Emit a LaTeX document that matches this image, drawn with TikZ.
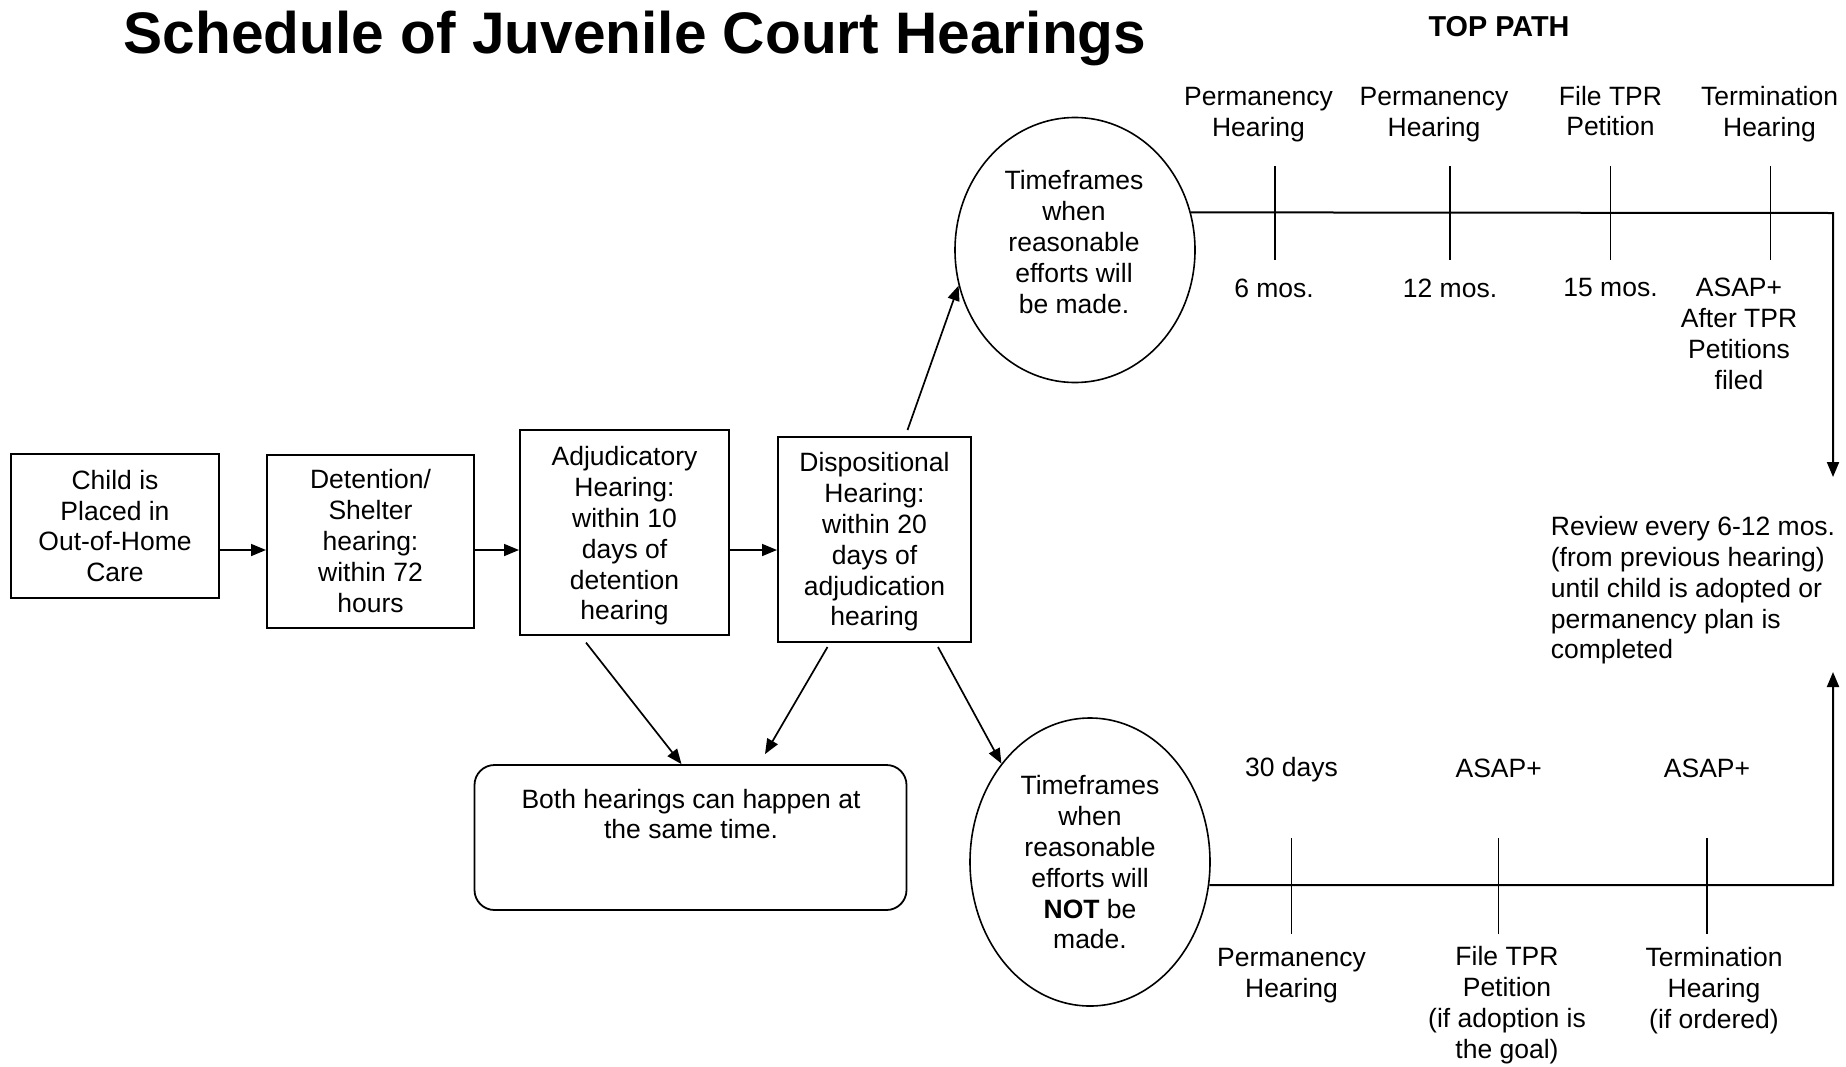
\documentclass[tikz,border=0pt]{standalone}
\usepackage{fontspec}
\setmainfont{Liberation Sans}
\usetikzlibrary{arrows.meta,calc,shapes.geometric}
\newcommand\bodyfont{\fontsize{13.25pt}{15.4pt}\selectfont}
\begin{document}
\begin{tikzpicture}[x=0.5pt,y=-0.5pt,
  box/.style={draw, line width=1pt, inner sep=0pt, align=center, font=\bodyfont},
  oval/.style={draw, ellipse, line width=0.8pt, inner sep=0pt, align=center, font=\bodyfont},
  lbl/.style={align=center, font=\bodyfont, inner sep=0pt},
  arr/.style={line width=0.85pt, -{Triangle[length=7.5pt,width=6pt]}},
  tl/.style={line width=1pt},
  tickline/.style={line width=0.6pt}]
\useasboundingbox (0,0) rectangle (1846,1066);

% title
\node[font=\fontsize{29.3pt}{34pt}\selectfont\bfseries, anchor=base, inner sep=0pt] (title) at (635,53.5) {Schedule of Juvenile Court Hearings};
\node[font=\fontsize{14.4pt}{17pt}\selectfont\bfseries, anchor=base, inner sep=0pt] (toppath) at (1499,36.5) {TOP PATH};

% boxes
\node[box, minimum width=104pt, minimum height=72pt] (b1) at (115,526) {Child is\\Placed in\\Out-of-Home\\Care};
\node[box, minimum width=103.5pt, minimum height=86.5pt] (b2) at (370.5,541) {Detention/\\Shelter\\hearing:\\within 72\\hours};
\node[box, minimum width=104.5pt, minimum height=102.5pt] (b3) at (624.5,532.5) {};
\node[lbl] (b3t) at (624.5,536) {Adjudicatory\\Hearing:\\within 10\\days of\\detention\\hearing};
\node[box, minimum width=96.5pt, minimum height=102.5pt] (b4) at (874.5,539.5) {};
\node[lbl] (b4t) at (874.5,542) {Dispositional\\Hearing:\\within 20\\days of\\adjudication\\hearing};

% ellipses
\node[oval, minimum width=120pt, minimum height=132.5pt] (e1) at (1075,250) {};
\node[lbl] (e1t) at (1074,242) {Timeframes\\when\\reasonable\\efforts will\\be made.};
\node[oval, minimum width=120pt, minimum height=144pt] (e2) at (1090,862) {};
\node[lbl] (e2t) at (1090,862.5) {Timeframes\\when\\reasonable\\efforts will\\\textbf{NOT} be\\made.};

% rounded box
\node[draw, rounded corners=10pt, line width=0.9pt, minimum width=216pt, minimum height=72.5pt, inner sep=0pt] (rr) at (690.5,837.5) {};
\node[lbl] (rrt) at (691,814) {Both hearings can happen at\\the same time.};

% arrows between boxes
\draw[arr] (b1.east |- 0,550) -- (b2.west |- 0,550);
\draw[arr] (b2.east |- 0,550) -- (b3.west |- 0,550);
\draw[arr] (b3.east |- 0,550) -- (b4.west |- 0,550);

\draw[arr] ($(b4.north)+(33,-6)$) -- (e1.197);
\draw[arr] ($(b4.south)+(63.5,4)$) -- (e2.132);
\draw[arr] ($(b3.south)+(-38.5,6.6)$) -- ($(rr.north)+(-9,0)$);
\draw[arr] ($(b4.south)+(-47,4)$) -- ($(rr.north)+(74.5,-10)$);

% top timeline
\coordinate (ctop) at (1833,213);
\coordinate (rtop) at (1833,477);
\draw[arr, line width=1pt] (e1.18) -- (ctop) -- (rtop);
\foreach \i/\x in {1/1275,2/1450,3/1610.5,4/1770.6}{
  \coordinate (ta\i) at (\x,166);
  \coordinate (tb\i) at (\x,260);
  \draw[tickline] (ta\i) -- (tb\i);
}
\node[lbl] (tp1) at (1258.5,114.5) {Permanency\\Hearing};
\node[lbl] (tp2) at (1434,114.5) {Permanency\\Hearing};
\node[lbl] (tp3) at (1610.5,111) {File TPR\\Petition};
\node[lbl] (tp4) at (1769.5,114.5) {Termination\\Hearing};
\node[lbl] (tm1) at (1274,288) {6 mos.};
\node[lbl] (tm2) at (1450,288) {12 mos.};
\node[lbl] (tm3) at (1610.5,288) {15 mos.};
\node[lbl] (tm4) at (1739,334) {ASAP+\\After TPR\\Petitions\\filed};

% review text
\node[lbl, align=left, anchor=west] (review) at (1550.5,590.5) {Review every 6-12 mos.\\(from previous hearing)\\until child is adopted or\\permanency plan is\\completed};

% bottom timeline
\coordinate (cbot) at (1833,885);
\coordinate (rbot) at (1833,672);
\draw[arr, line width=1pt] (e2.349) -- (cbot) -- (rbot);
\foreach \i/\x in {1/1291.5,2/1498.7,3/1707}{
  \coordinate (ba\i) at (\x,838);
  \coordinate (bb\i) at (\x,934);
  \draw[tickline] (ba\i) -- (bb\i);
}
\node[lbl] (bt1) at (1291.5,769.5) {30 days};
\node[lbl] (bt2) at (1498.7,768.5) {ASAP+};
\node[lbl] (bt3) at (1707,768.5) {ASAP+};
\node[lbl] (bl1) at (1291.5,975.5) {Permanency\\Hearing};
\node[lbl] (bl2) at (1507,1005) {File TPR\\Petition\\(if adoption is\\the goal)};
\node[lbl] (bl3) at (1714,990.5) {Termination\\Hearing\\(if ordered)};
\end{tikzpicture}
\end{document}
